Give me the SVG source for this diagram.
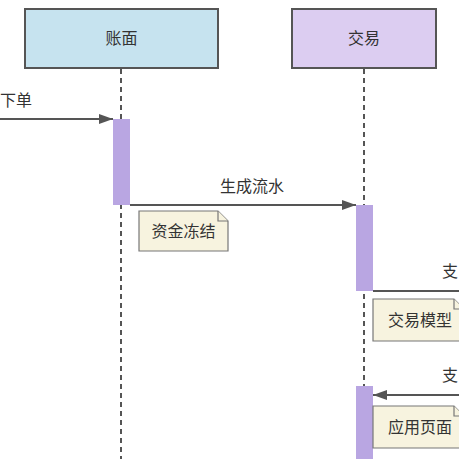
<svg xmlns="http://www.w3.org/2000/svg" width="459" height="459" viewBox="0 0 459 459">
<style>
  text { font-family: "Noto Sans CJK SC", "Noto Sans", sans-serif; font-size: 16px; fill: #333; }
  .actor { stroke: #555; stroke-width: 2; }
  .life { stroke: #555; stroke-width: 2; stroke-dasharray: 5 4; fill: none; }
  .act { fill: #b9a6e2; stroke: none; }
  .msg { stroke: #555; stroke-width: 2; fill: none; }
  .note { fill: #f7f3df; stroke: #777; stroke-width: 1.2; }
</style>
<defs>
  <marker id="arr" viewBox="0 0 14 10" refX="14" refY="5" markerWidth="14" markerHeight="10" markerUnits="userSpaceOnUse" orient="auto">
    <path d="M0,0 L14,5 L0,10 Z" fill="#555"/>
  </marker>
</defs>
<rect width="459" height="459" fill="#fff"/>
<g id="lifelines">
  <line class="life" x1="121" y1="69" x2="121" y2="459"/>
  <line class="life" x1="364" y1="69" x2="364" y2="459"/>
</g>
<g id="actor-zhangmian">
  <rect class="actor" x="25" y="9" width="193" height="59" fill="#c6e3ef"/>
  <text x="121.5" y="44" text-anchor="middle">账面</text>
</g>
<g id="actor-jiaoyi">
  <rect class="actor" x="292" y="9" width="144" height="59" fill="#dccdf1"/>
  <text x="364" y="44" text-anchor="middle">交易</text>
</g>
<g id="activations">
  <rect class="act" x="113" y="119" width="17" height="86"/>
  <rect class="act" x="356" y="205" width="17" height="86"/>
  <rect class="act" x="356" y="386" width="17" height="73"/>
</g>
<g id="connectors">
  <line class="msg" x1="-5" y1="119" x2="113" y2="119" marker-end="url(#arr)"/>
  <line class="msg" x1="130" y1="205" x2="356" y2="205" marker-end="url(#arr)"/>
  <line class="msg" x1="373" y1="291" x2="470" y2="291"/>
  <line class="msg" x1="470" y1="395" x2="373" y2="395" marker-end="url(#arr)"/>
</g>
<g id="labels">
  <text x="0" y="106">下单</text>
  <text x="252" y="192" text-anchor="middle">生成流水</text>
  <text x="442" y="277">支</text>
  <text x="442" y="381">支</text>
</g>
<g id="note-zijindongjie">
  <path class="note" d="M139,211 H218 L228,221 V251 H139 Z"/>
  <path class="note" d="M218,211 V221 H228" fill="none"/>
  <text x="183.5" y="237" text-anchor="middle">资金冻结</text>
</g>
<g id="note-jiaoyimoxing">
  <path class="note" d="M373,299 H454 L464,309 V341 H373 Z"/>
  <path class="note" d="M454,299 V309 H464" fill="none"/>
  <text x="388" y="326">交易模型</text>
</g>
<g id="note-yingyongyemian">
  <path class="note" d="M373,406 H454 L464,416 V448 H373 Z"/>
  <path class="note" d="M454,406 V416 H464" fill="none"/>
  <text x="388" y="433">应用页面</text>
</g>
</svg>
